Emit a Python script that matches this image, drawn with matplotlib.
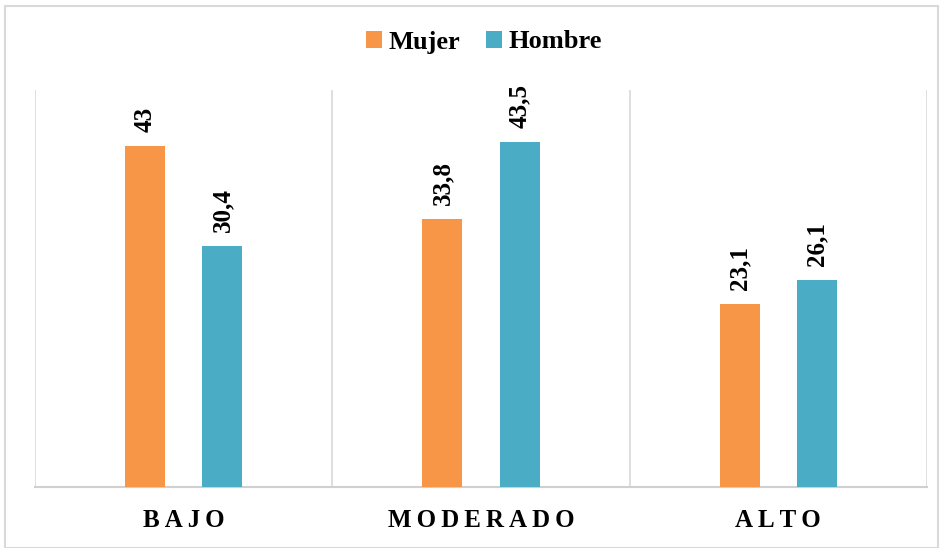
import matplotlib.pyplot as plt
import numpy as np

plt.rcParams['font.family'] = ['Liberation Serif', 'DejaVu Serif']

# datos
categorias = ['BAJO', 'MODERADO', 'ALTO']
mujer = [43, 33.8, 23.1]
hombre = [30.4, 43.5, 26.1]
series = ['Mujer', 'Hombre']
colores = ['#F79646', '#4BACC6']

fig = plt.figure(figsize=(9.4, 5.48), dpi=100)
ax = fig.add_axes([35 / 940, 61 / 548, 892 / 940, 397 / 548])

x = np.arange(len(categorias))
ancho = 0.134
off = 0.13

b1 = ax.bar(x - off, mujer, ancho, color=colores[0], label=series[0], zorder=3)
b2 = ax.bar(x + off, hombre, ancho, color=colores[1], label=series[1], zorder=3)

def etiqueta(v):
    return ('%g' % v).replace('.', ',')

for barras, vals in ((b1, mujer), (b2, hombre)):
    for b, v in zip(barras, vals):
        ax.annotate(etiqueta(v), (b.get_x() + b.get_width() / 2, v),
                    xytext=(0, 10), textcoords='offset points',
                    rotation=90, ha='center', va='bottom',
                    fontsize=18, fontweight='bold')

ax.set_xlim(-0.5, 2.5)
ax.set_ylim(0, 50)
ax.set_yticks([])
ax.set_xticks(x)
ax.set_xticklabels(['\u2009'.join(c) for c in categorias],
                   fontsize=18, fontweight='bold')
ax.tick_params(axis='x', length=0, pad=16)

# lineas separadoras entre categorias
for xv in [-0.5, 0.5, 1.5, 2.5]:
    ax.axvline(xv, color='#D9D9D9', lw=1.2, zorder=1)

for s in ['top', 'left', 'right']:
    ax.spines[s].set_visible(False)
ax.spines['bottom'].set_color('#D0D0D0')
ax.spines['bottom'].set_linewidth(1.5)

leg = fig.legend(loc='center', bbox_to_anchor=(484 / 940, 1 - 42 / 548),
                 ncol=2, frameon=False, handlelength=0.6, handleheight=0.6,
                 handletextpad=0.25, columnspacing=1.0,
                 prop={'weight': 'bold', 'size': 19})

# borde del grafico
fig.patches.append(plt.Rectangle((5 / 940, 0), 1 - 7 / 940, 1 - 6 / 548,
                                 transform=fig.transFigure, fill=False,
                                 edgecolor='#D9D9D9', lw=1.5))

fig.savefig('out.png', dpi=100)
